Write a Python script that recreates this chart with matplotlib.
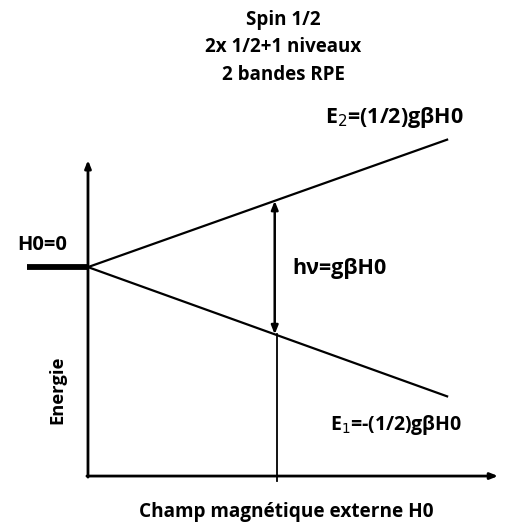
import numpy as np
import matplotlib
matplotlib.use("Agg")
import matplotlib.pyplot as plt

plt.rcParams['font.family'] = ['Open Sans', 'DejaVu Sans']

# champ magnetique (unites arbitraires) et niveaux d'energie
champ = [0, 10]
E2 = [0, 3.55]
E1 = [0, -3.6]
H_res = 5.2          # champ de resonance
H0_zero = [-1.7, 0]  # niveau degenere a H0=0
E_axe_min = -5.82
E_axe_max = 2.98
H_axe_max = 11.42

titre = ["Spin 1/2", "2x 1/2+1 niveaux", "2 bandes RPE"]

fig = plt.figure(figsize=(5.2, 5.22), dpi=100)
ax = fig.add_axes([0, 0, 1, 1])
ax.set_xlim(-2.45, 12.03)
ax.set_ylim(-7.10, 7.44)
ax.axis('off')

# axes avec fleches
ax.annotate('', xy=(0, E_axe_max), xytext=(0, E_axe_min - 0.03),
            arrowprops=dict(arrowstyle='-|>,head_length=0.45,head_width=0.18',
                            lw=2.0, color='black', shrinkA=0, shrinkB=0))
ax.annotate('', xy=(H_axe_max, E_axe_min), xytext=(-0.03, E_axe_min),
            arrowprops=dict(arrowstyle='-|>,head_length=0.45,head_width=0.18',
                            lw=2.0, color='black', shrinkA=0, shrinkB=0))

# niveaux
ax.plot(champ, E2, color='black', lw=1.6)
ax.plot(champ, E1, color='black', lw=1.6)
ax.plot(H0_zero, [0, 0], color='black', lw=4.2, solid_capstyle='butt')

# transition RPE
e_haut = np.interp(H_res, champ, E2)
e_bas = np.interp(H_res, champ, E1)
ax.annotate('', xy=(H_res, e_haut), xytext=(H_res, e_bas),
            arrowprops=dict(arrowstyle='<|-|>,head_length=0.5,head_width=0.2',
                            lw=1.8, color='black', shrinkA=0, shrinkB=0))
ax.plot([H_res + 0.05, H_res + 0.05], [e_bas, E_axe_min - 0.15], color='black', lw=1.3)

# textes
for i, ligne in enumerate(titre):
    ax.text(0.545, 1 - (20 + 27.5 * i) / 522, ligne, transform=ax.transAxes,
            ha='center', va='center', fontsize=13.5, fontweight='bold')
ax.text(-1.28, 0.61, 'H0=0', ha='center', va='center', fontsize=14.5, fontweight='bold')
ax.text(5.68, -0.03, 'hν=gβH0', ha='left', va='center', fontsize=15.5, fontweight='bold')
ax.text(6.6, 4.18, r'E$_2$=(1/2)gβH0', ha='left', va='center', fontsize=15.5, fontweight='bold')
ax.text(6.74, -4.4, r'E$_1$=-(1/2)gβH0', ha='left', va='center', fontsize=14, fontweight='bold')
ax.text(-0.84, -3.43, 'Energie', rotation=90, ha='center', va='center',
        fontsize=13.2, fontweight='bold')
ax.text(0.55, 0.019, 'Champ magnétique externe H0', transform=ax.transAxes,
        ha='center', va='center', fontsize=13.7, fontweight='bold')

fig.savefig('out.png', dpi=100, facecolor='white')
